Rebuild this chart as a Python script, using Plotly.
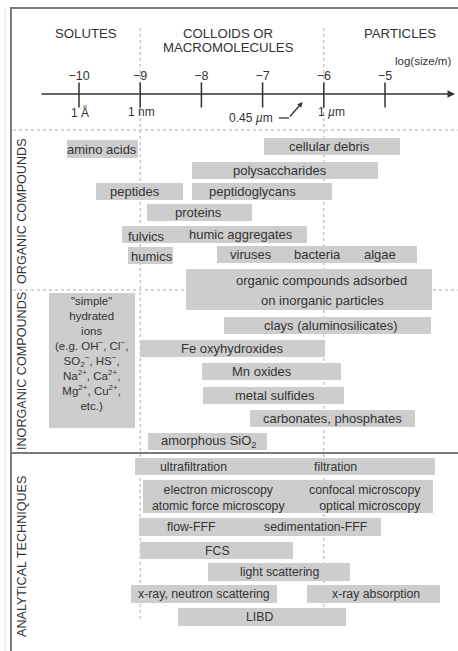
import math
import plotly.graph_objects as go

W, H = 458, 651

# log10(size/m) scale of the header
tick_values = [-10, -9, -8, -7, -6, -5]
tick_labels = ["\u221210", "\u22129", "\u22128", "\u22127", "\u22126", "\u22125"]

# ---- organic compounds (bar extents in log10(size/m), row index) ----
org_start = [-10.20, -6.98, -8.15, -9.72, -8.15, -8.89, -9.30, -8.46, -9.20, -7.75, -8.25]
org_end = [-9.04, -4.76, -5.11, -8.30, -5.87, -7.17, -8.46, -6.28, -8.46, -4.48, -4.23]
org_rows = [0, -0.1, 1, 2, 2, 3, 4, 4, 5, 4.95, 6.6]
org_spans = [0.8, 0.8, 0.8, 0.8, 0.8, 0.8, 0.8, 0.8, 0.8, 0.8, 1.92]
org_text = ["amino acids", "cellular debris", "polysaccharides", "peptides", "peptidoglycans",
            "proteins", "fulvics", "humic aggregates", "humics", "viruses", "bacteria", "algae",
            "organic compounds adsorbed", "on inorganic particles"]
org_text_x = [-9.62, -5.90, -6.72, -9.085, -7.165, -8.04, -8.905, -7.35, -8.80,
              -7.19, -6.10, -5.08, -6.03, -6.02]
org_text_rows = [0, -0.1, 1, 2, 2, 3, 4.1, 4, 5.05, 4.95, 4.95, 4.95, 6.15, 7.09]

# ---- inorganic compounds ----
inorg_start = [-10.49, -7.63, -9.00, -7.99, -7.97, -7.21, -8.87]
inorg_end = [-9.085, -4.25, -5.98, -5.72, -5.67, -4.51, -6.93]
inorg_rows = [1.51, 0, 1, 2, 3, 4, 5]
inorg_spans = [5.82, 0.74, 0.74, 0.74, 0.74, 0.74, 0.74]
inorg_text = ["clays (aluminosilicates)", "Fe oxyhydroxides", "Mn oxides", "metal sulfides",
              "carbonates, phosphates", "amorphous SiO<sub>2</sub>"]
inorg_text_x = [-5.88, -7.505, -7.01, -6.80, -5.85, -7.88]
inorg_text_rows = [0, 1, 2, 3, 4, 5]
ions_lines = ["\"simple\"", "hydrated", "ions",
              "(e.g. OH<sup>\u2212</sup>, Cl<sup>\u2212</sup>,",
              "SO<sub>2</sub><sup>\u2212</sup>, HS<sup>\u2212</sup>,",
              "Na<sup>2+</sup>, Ca<sup>2+</sup>,",
              "Mg<sup>2+</sup>, Cu<sup>2+</sup>,", "etc.)"]
ions_x = -9.79

# ---- analytical techniques ----
ana_start = [-9.085, -8.95, -9.02, -9.00, -7.89, -9.15, -6.27, -8.38]
ana_end = [-4.18, -4.22, -5.07, -6.50, -5.57, -6.76, -4.10, -5.64]
ana_rows = [0, 1.35, 2.7, 3.75, 4.7, 5.7, 5.7, 6.7]
ana_spans = [0.8, 1.47, 0.8, 0.8, 0.8, 0.8, 0.8, 0.8]
ana_text = ["ultrafiltration", "filtration", "electron microscopy<br>atomic force microscopy",
            "confocal microscopy<br>optical microscopy", "flow-FFF", "sedimentation-FFF", "FCS",
            "light scattering", "x-ray, neutron scattering", "x-ray absorption", "LIBD"]
ana_text_x = [-8.137, -5.817, -7.72, -5.33, -8.17, -6.13, -7.73,
              -6.73, -7.96, -5.155, -7.05]
ana_text_rows = [0, 0, 1.4, 1.4, 2.7, 2.7, 3.75, 4.7, 5.7, 5.7, 6.7]
ana_text_align = ["center", "center", "center", "right", "center", "center", "center",
                  "center", "center", "center", "center"]

BAR = "#cdcdcd"
INK = "#333333"
FRAME = "#7a7a7a"
FONT = "Liberation Sans, Arial, sans-serif"

# page pixels <-> log scale: -10 sits at x=79, 61.2 px per decade
X0 = -10 - 79 / 61.2
X1 = X0 + W / 61.2


def px(x):
    return X0 + x / 61.2


fig = go.Figure()


def add_section(y0, pitch, starts, ends, rows, spans, texts, text_x, text_rows, size=13, aligns=None):
    fig.add_trace(go.Bar(
        orientation="h", base=starts, x=[e - s for s, e in zip(starts, ends)],
        y=[y0 + r * pitch for r in rows], width=[s * pitch for s in spans],
        marker=dict(color=BAR, line_width=0), hoverinfo="skip", showlegend=False))
    aligns = aligns or ["center"] * len(texts)
    for t, x, r, a in zip(texts, text_x, text_rows, aligns):
        fig.add_annotation(x=x, y=y0 + r * pitch, text=t, showarrow=False, align=a,
                           font=dict(size=size, color=INK))


add_section(149, 21.3, org_start, org_end, org_rows, org_spans, org_text, org_text_x, org_text_rows)
add_section(325.5, 23.2, inorg_start, inorg_end, inorg_rows, inorg_spans,
            inorg_text, inorg_text_x, inorg_text_rows)
add_section(466.5, 22.4, ana_start, ana_end, ana_rows, ana_spans, ana_text, ana_text_x,
            ana_text_rows, size=12.3, aligns=ana_text_align)

# "simple hydrated ions" box text, one block
fig.add_annotation(x=ions_x, y=353, text="<br>".join(ions_lines), showarrow=False,
                   font=dict(size=11.5, color=INK))

# header scale: ticks and their labels
fig.add_trace(go.Scatter(
    x=tick_values, y=[95] * len(tick_values), mode="markers+text",
    marker=dict(symbol="line-ns", size=18, line=dict(width=1.5, color="#333")),
    text=tick_labels, textposition="top center", textfont=dict(size=12.5, color=INK),
    hoverinfo="skip", showlegend=False))
fig.add_annotation(x=px(455), y=94, ax=px(40), ay=94, axref="x", ayref="y", text="",
                   showarrow=True, arrowhead=2, arrowsize=1, arrowwidth=1.5, arrowcolor="#333")

# size-class headers
for t, x, y in [("SOLUTES", 86, 33), ("COLLOIDS OR", 227.5, 33), ("MACROMOLECULES", 228, 47),
                ("PARTICLES", 400, 33)]:
    fig.add_annotation(x=px(x), y=y, text=t, showarrow=False, font=dict(size=13.2, color=INK))
fig.add_annotation(x=px(423), y=61, text="log(size/m)", showarrow=False, font=dict(size=11.5, color=INK))
for t, x, y in [("1 \u00c5", 79.5, 112), ("1 nm", 141.7, 112), ("1 <i>\u00b5</i>m", 331, 112),
                ("0.45 <i>\u00b5</i>m", 250.8, 118)]:
    fig.add_annotation(x=px(x), y=y, text=t, showarrow=False, font=dict(size=12, color=INK))
fig.add_annotation(x=math.log10(0.45e-6), y=102, ax=-14, ay=16, text="", showarrow=True,
                   arrowhead=2, arrowsize=0.8, arrowwidth=1.3, arrowcolor="#333")
fig.add_shape(type="line", x0=px(279), x1=px(289), y0=118, y1=118, line=dict(color="#333", width=1.3))

# vertical section titles
for t, y in [("ORGANIC COMPOUNDS", 211), ("INORGANIC COMPOUNDS", 371), ("ANALYTICAL TECHNIQUES", 557)]:
    fig.add_annotation(x=px(22), y=y, text=t, textangle=-90, showarrow=False,
                       font=dict(size=12.6, color=INK))

# dotted boundaries at 1 nm and 1 um, and between sections
for v in (-9, -6):
    fig.add_shape(type="line", x0=v, x1=v, y0=28, y1=622, layer="below",
                  line=dict(color="#aaaaaa", width=1, dash="dot"))
for y in (130, 290):
    fig.add_shape(type="line", x0=px(13), x1=px(W), y0=y, y1=y, layer="below",
                  line=dict(color="#aaaaaa", width=1, dash="dot"))
fig.add_shape(type="line", x0=px(12), x1=px(W), y0=453, y1=453, line=dict(color=FRAME, width=2))

# frame
fig.add_shape(type="line", x0=px(10), x1=px(W), y0=8, y1=8, line=dict(color=FRAME, width=2))
fig.add_shape(type="line", x0=px(11), x1=px(11), y0=7, y1=H, line=dict(color=FRAME, width=2))
fig.add_shape(type="line", x0=px(5), x1=px(5), y0=7, y1=H, line=dict(color="#e2e2e2", width=1))

fig.update_xaxes(range=[X0, X1], visible=False)
fig.update_yaxes(range=[H, 0], visible=False)
fig.update_layout(width=W, height=H, margin=dict(l=0, r=0, t=0, b=0), barmode="overlay",
                  plot_bgcolor="white", paper_bgcolor="white", font=dict(family=FONT, color=INK),
                  bargap=0)

fig.write_html("out.html", config={"displayModeBar": False},
               post_script="document.body.style.margin='0';")
